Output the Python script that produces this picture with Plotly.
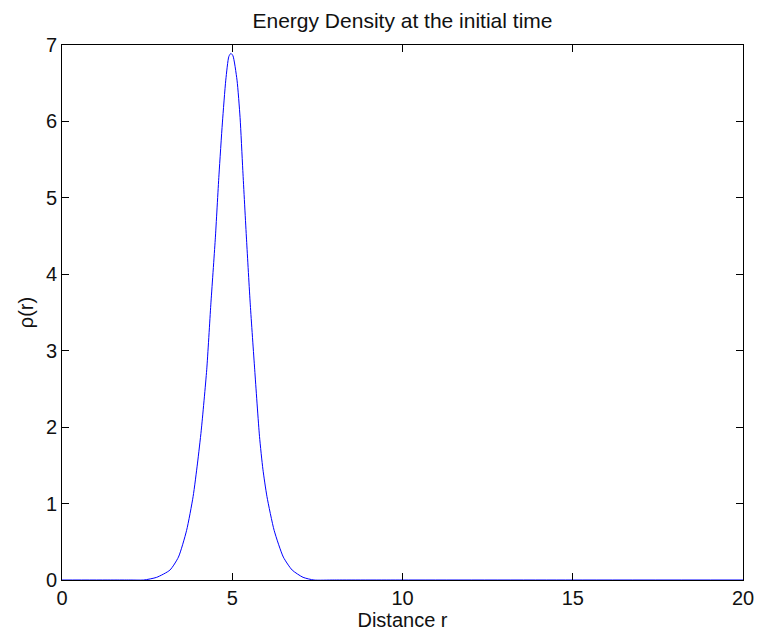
import plotly.graph_objects as go

# Readings from the reference picture
r_values = [0, 1.5, 2.0, 2.4, 2.78, 3.17, 3.42, 3.66, 3.85, 3.98, 4.09, 4.25, 4.37, 4.50, 4.61,
            4.71, 4.81, 4.90, 4.96, 5.02, 5.14, 5.23, 5.31, 5.42, 5.53, 5.66, 5.80, 5.90,
            6.02, 6.23, 6.50, 6.76, 7.08, 7.4, 8.0, 10, 15, 20]
rho_values = [0, 0, 0, 0, 0.035, 0.13, 0.30, 0.65, 1.09, 1.53, 1.96, 2.75, 3.60, 4.45, 5.30,
              5.98, 6.54, 6.85, 6.89, 6.86, 6.54, 6.05, 5.36, 4.45, 3.60, 2.75, 1.88, 1.45,
              1.09, 0.65, 0.30, 0.13, 0.035, 0, 0, 0, 0, 0]
x_ticks = [0, 5, 10, 15, 20]
y_ticks = [0, 1, 2, 3, 4, 5, 6, 7]

font_family = "Liberation Sans, Arial, sans-serif"
text_color = "#111111"

fig = go.Figure()
fig.add_trace(go.Scatter(x=r_values, y=rho_values, mode="lines",
                         line=dict(color="#0000ff", width=1, shape="spline", smoothing=0.6),
                         showlegend=False))

axis_common = dict(showline=True, linecolor="black", linewidth=1, mirror="ticks",
                   ticks="inside", ticklen=7, tickcolor="black", tickwidth=1,
                   showgrid=False, zeroline=False,
                   tickfont=dict(family=font_family, size=20, color=text_color))

fig.update_layout(
    width=757, height=634,
    margin=dict(l=62, r=14, t=45, b=54),
    paper_bgcolor="white", plot_bgcolor="white",
    title=dict(text="Energy Density at the initial time", x=0.5317, xanchor="center",
               y=0.968, yanchor="middle",
               font=dict(family=font_family, size=21, color=text_color)),
    xaxis=dict(range=[0, 20], tickvals=x_ticks, automargin=False,
               title=dict(text="Distance r", standoff=3,
                          font=dict(family=font_family, size=20, color=text_color)),
               **axis_common),
    yaxis=dict(range=[0, 7], tickvals=y_ticks, automargin=False,
               title=dict(text="ρ(r)", standoff=6,
                          font=dict(family=font_family, size=20, color=text_color)),
               **axis_common),
)

fig.write_html("out.html", config={"displayModeBar": False},
               post_script="document.body.style.margin='0';")
